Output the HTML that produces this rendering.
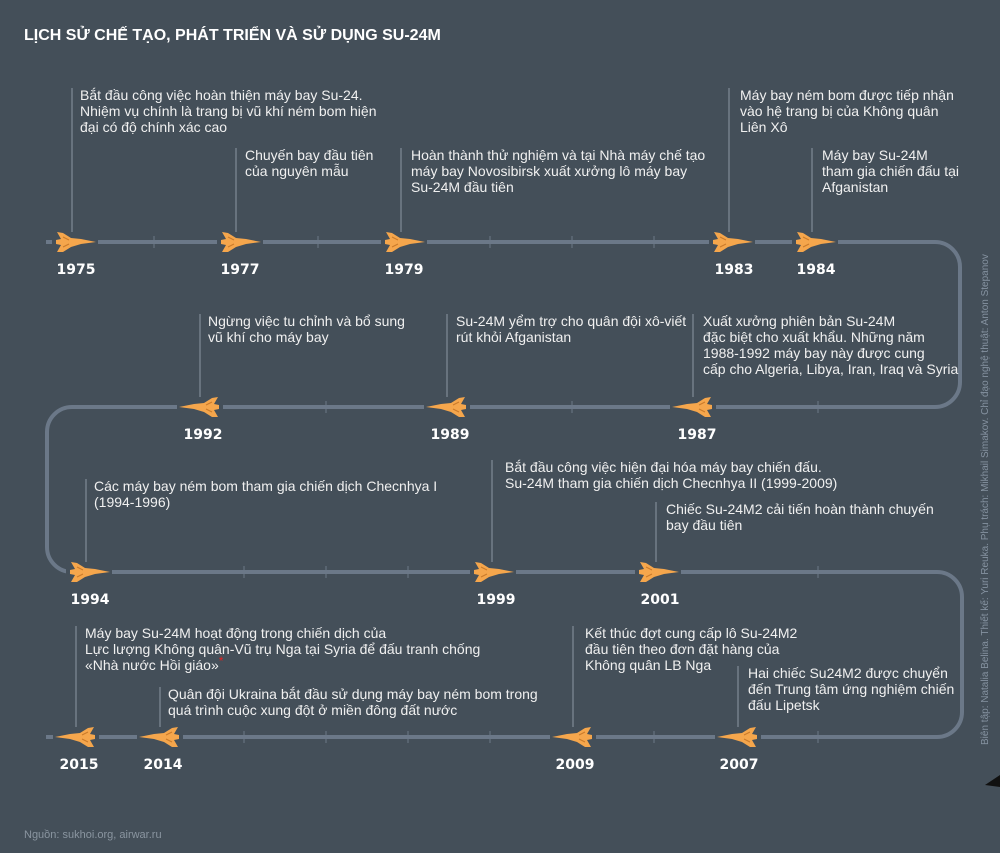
<!DOCTYPE html>
<html><head><meta charset="utf-8"><style>
html,body{margin:0;padding:0;background:#444f59;}
svg{display:block}
.t{font-family:"Liberation Sans",sans-serif;font-size:14px;fill:#f0f0f0}
.y{font-family:"DejaVu Sans",sans-serif;font-weight:bold;font-size:14px;fill:#fff;text-anchor:middle}
.l{stroke:#8c97a2;stroke-width:1}
</style></head><body>
<svg width="1000" height="853" viewBox="0 0 1000 853" xmlns="http://www.w3.org/2000/svg">
<defs>
<g id="pr"><path d="M-18,-10 L-12,-9 L-4,-4 L6,-3 L21,0 L6,2 L-4,5 L-12,10 L-18,10 L-14,3 L-19,2 L-19,-2 L-14,-3 Z" fill="#f5a64c"/><path d="M-12,-5 L-6,-2 M-12,5 L-6,2" stroke="#c97a2a" stroke-width="1"/></g>
<g id="pl"><use href="#pr" transform="scale(-1,1)"/></g>
</defs>
<rect width="1000" height="853" fill="#444f59"/>
<text x="24" y="40" font-family="Liberation Sans,sans-serif" font-weight="bold" font-size="16" fill="#fff">LỊCH SỬ CHẾ TẠO, PHÁT TRIỂN VÀ SỬ DỤNG SU-24M</text>
<path d="M46,242 H935 A25,25 0 0 1 960,267 V382 A25,25 0 0 1 935,407 H72 A25,25 0 0 0 47,432 V547 A25,25 0 0 0 72,572 H937 A25,25 0 0 1 962,597 V712 A25,25 0 0 1 937,737 H46" fill="none" stroke="#6b7888" stroke-width="4"/>
<g stroke="#6b7888" stroke-width="1">
<path d="M154,236V248M318,236V248M490,236V248M572,236V248M654,236V248M326,401V413M572,401V413M818,401V413M244,566V578M326,566V578M408,566V578M818,566V578M244,731V743M326,731V743M408,731V743M490,731V743M654,731V743M818,731V743"/>
</g>
<g class="l">
<line x1="72" y1="88" x2="72" y2="232"/><line x1="236" y1="148" x2="236" y2="232"/><line x1="401" y1="148" x2="401" y2="232"/><line x1="729" y1="88" x2="729" y2="232"/><line x1="812" y1="148" x2="812" y2="232"/>
<line x1="200" y1="314" x2="200" y2="397"/><line x1="447" y1="314" x2="447" y2="397"/><line x1="693" y1="314" x2="693" y2="397"/>
<line x1="86" y1="479" x2="86" y2="562"/><line x1="492" y1="460" x2="492" y2="562"/><line x1="656" y1="502" x2="656" y2="562"/>
<line x1="76" y1="626" x2="76" y2="727"/><line x1="160" y1="687" x2="160" y2="727"/><line x1="573" y1="626" x2="573" y2="727"/><line x1="738" y1="666" x2="738" y2="727"/>
</g>
<g stroke="#444f59" stroke-width="6">
<line x1="52" y1="242" x2="98" y2="242"/><line x1="217" y1="242" x2="263" y2="242"/><line x1="381" y1="242" x2="427" y2="242"/><line x1="709" y1="242" x2="755" y2="242"/><line x1="792" y1="242" x2="838" y2="242"/>
<line x1="177" y1="407" x2="223" y2="407"/><line x1="424" y1="407" x2="470" y2="407"/><line x1="670" y1="407" x2="716" y2="407"/>
<line x1="66" y1="572" x2="112" y2="572"/><line x1="470" y1="572" x2="516" y2="572"/><line x1="635" y1="572" x2="681" y2="572"/>
<line x1="53" y1="737" x2="99" y2="737"/><line x1="137" y1="737" x2="183" y2="737"/><line x1="550" y1="737" x2="596" y2="737"/><line x1="715" y1="737" x2="761" y2="737"/>
</g>
<use href="#pr" x="75" y="242"/><use href="#pr" x="240" y="242"/><use href="#pr" x="404" y="242"/><use href="#pr" x="732" y="242"/><use href="#pr" x="815" y="242"/>
<use href="#pl" x="200" y="407"/><use href="#pl" x="447" y="407"/><use href="#pl" x="693" y="407"/>
<use href="#pr" x="89" y="572"/><use href="#pr" x="493" y="572"/><use href="#pr" x="658" y="572"/>
<use href="#pl" x="76" y="737"/><use href="#pl" x="160" y="737"/><use href="#pl" x="573" y="737"/><use href="#pl" x="738" y="737"/>
<g class="y">
<text x="76" y="274">1975</text><text x="240" y="274">1977</text><text x="404" y="274">1979</text><text x="734" y="274">1983</text><text x="816" y="274">1984</text>
<text x="203" y="439">1992</text><text x="450" y="439">1989</text><text x="697" y="439">1987</text>
<text x="90" y="604">1994</text><text x="496" y="604">1999</text><text x="660" y="604">2001</text>
<text x="79" y="769">2015</text><text x="163" y="769">2014</text><text x="575" y="769">2009</text><text x="739" y="769">2007</text>
</g>
<g class="t">
<text x="80" y="100">Bắt đầu công việc hoàn thiện máy bay Su-24.</text><text x="80" y="116">Nhiệm vụ chính là trang bị vũ khí ném bom hiện</text><text x="80" y="132">đại có độ chính xác cao</text>
<text x="245" y="160">Chuyến bay đầu tiên</text><text x="245" y="176">của nguyên mẫu</text>
<text x="411" y="160">Hoàn thành thử nghiệm và tại Nhà máy chế tạo</text><text x="411" y="176">máy bay Novosibirsk xuất xưởng lô máy bay</text><text x="411" y="192">Su-24M đầu tiên</text>
<text x="740" y="100">Máy bay ném bom được tiếp nhận</text><text x="740" y="116">vào hệ trang bị của Không quân</text><text x="740" y="132">Liên Xô</text>
<text x="822" y="160">Máy bay Su-24M</text><text x="822" y="176">tham gia chiến đấu tại</text><text x="822" y="192">Afganistan</text>
<text x="208" y="326">Ngừng việc tu chỉnh và bổ sung</text><text x="208" y="342">vũ khí cho máy bay</text>
<text x="456" y="326">Su-24M yểm trợ cho quân đội xô-viết</text><text x="456" y="342">rút khỏi Afganistan</text>
<text x="703" y="326">Xuất xưởng phiên bản Su-24M</text><text x="703" y="342">đặc biệt cho xuất khẩu. Những năm</text><text x="703" y="358">1988-1992 máy bay này được cung</text><text x="703" y="374">cấp cho Algeria, Libya, Iran, Iraq và Syria</text>
<text x="94" y="491">Các máy bay ném bom tham gia chiến dịch Checnhya I</text><text x="94" y="507">(1994-1996)</text>
<text x="505" y="472">Bắt đầu công việc hiện đại hóa máy bay chiến đấu.</text><text x="505" y="488">Su-24M tham gia chiến dịch Checnhya II (1999-2009)</text>
<text x="666" y="514">Chiếc Su-24M2 cải tiến hoàn thành chuyến</text><text x="666" y="530">bay đầu tiên</text>
<text x="85" y="638">Máy bay Su-24M hoạt động trong chiến dịch của</text><text x="85" y="654">Lực lượng Không quân-Vũ trụ Nga tại Syria để đấu tranh chống</text><text x="85" y="670">«Nhà nước Hồi giáo»<tspan fill="#e02020" dy="-5" font-size="12">*</tspan></text>
<text x="168" y="699">Quân đội Ukraina bắt đầu sử dụng máy bay ném bom trong</text><text x="168" y="715">quá trình cuộc xung đột ở miền đông đất nước</text>
<text x="585" y="638">Kết thúc đợt cung cấp lô Su-24M2</text><text x="585" y="654">đầu tiên theo đơn đặt hàng của</text><text x="585" y="670">Không quân LB Nga</text>
<text x="748" y="678">Hai chiếc Su24M2 được chuyển</text><text x="748" y="694">đến Trung tâm ứng nghiệm chiến</text><text x="748" y="710">đấu Lipetsk</text>
</g>
<text transform="translate(988,745) rotate(-90)" font-family="Liberation Sans,sans-serif" font-size="10" fill="#8592a0">Biên tập: Natalia Belina. Thiết kế: Yuri Reuka. Phụ trách: Mikhail Simakov. Chỉ đạo nghệ thuật: Anton Stepanov</text>
<path d="M985,785 L1000,775 L1000,787 Z" fill="#111"/>
<text x="24" y="838" font-family="Liberation Sans,sans-serif" font-size="11" fill="#8a95a0">Nguồn: sukhoi.org, airwar.ru</text>
</svg>
</body></html>
